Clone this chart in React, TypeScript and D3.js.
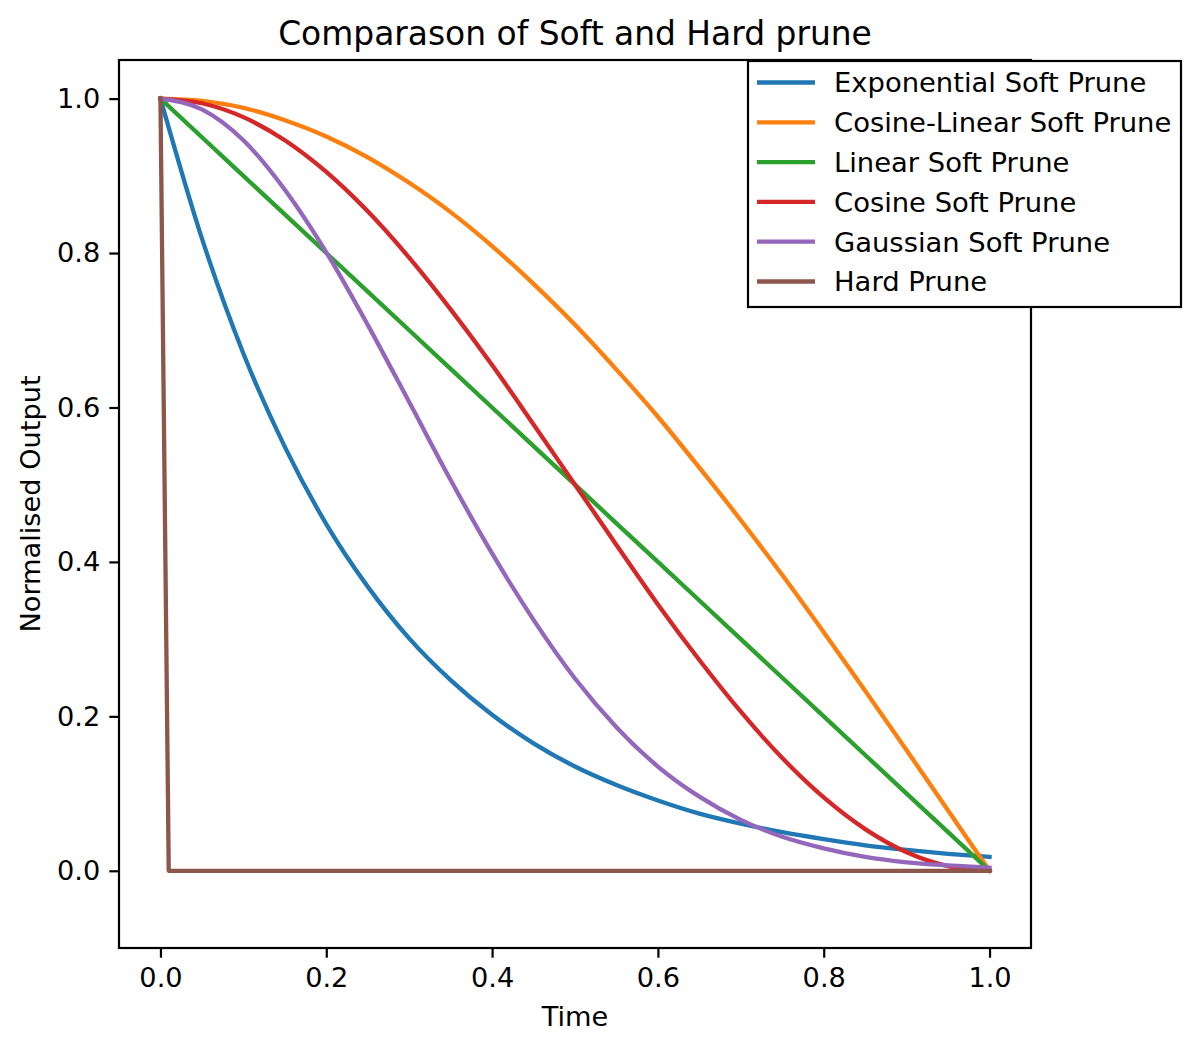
import React, { useRef, useEffect } from 'react';
import * as d3 from 'd3';

// sample times
const times = [
  0, 0.05, 0.1, 0.15, 0.2, 0.25, 0.3, 0.35, 0.4, 0.45, 0.5,
  0.55, 0.6, 0.65, 0.7, 0.75, 0.8, 0.85, 0.9, 0.95, 1.0,
];

const exponentialSoft = [
  1.0, 0.819, 0.67, 0.549, 0.449, 0.368, 0.301, 0.247, 0.202, 0.165, 0.135,
  0.111, 0.091, 0.074, 0.061, 0.05, 0.041, 0.033, 0.027, 0.022, 0.018,
];
const cosineLinearSoft = [
  1.0, 0.997, 0.988, 0.972, 0.951, 0.924, 0.891, 0.853, 0.809, 0.76, 0.707,
  0.649, 0.588, 0.522, 0.454, 0.383, 0.309, 0.233, 0.156, 0.078, 0.0,
];
const linearSoft = [
  1.0, 0.95, 0.9, 0.85, 0.8, 0.75, 0.7, 0.65, 0.6, 0.55, 0.5,
  0.45, 0.4, 0.35, 0.3, 0.25, 0.2, 0.15, 0.1, 0.05, 0.0,
];
const cosineSoft = [
  1.0, 0.994, 0.976, 0.946, 0.905, 0.854, 0.794, 0.727, 0.655, 0.578, 0.5,
  0.422, 0.345, 0.273, 0.206, 0.146, 0.095, 0.054, 0.024, 0.006, 0.0,
];
const gaussianSoft = [
  1.0, 0.986, 0.946, 0.882, 0.801, 0.707, 0.607, 0.506, 0.411, 0.325, 0.249,
  0.186, 0.135, 0.096, 0.066, 0.044, 0.029, 0.018, 0.011, 0.007, 0.004,
];

const hardTimes = [0, 0.01, 1.0];
const hardPrune = [1.0, 0.0, 0.0];

const seriesNames = [
  'Exponential Soft Prune',
  'Cosine-Linear Soft Prune',
  'Linear Soft Prune',
  'Cosine Soft Prune',
  'Gaussian Soft Prune',
  'Hard Prune',
];
const seriesColors = ['#1f77b4', '#ff7f0e', '#2ca02c', '#d62728', '#9467bd', '#8c564b'];

const xTicks = [0, 0.2, 0.4, 0.6, 0.8, 1.0];
const yTicks = [0, 0.2, 0.4, 0.6, 0.8, 1.0];

const FONT = '"DejaVu Sans", sans-serif';

const App: React.FC = () => {
  const svgRef = useRef<SVGSVGElement | null>(null);

  useEffect(() => {
    if (!svgRef.current) return;
    const svg = d3.select(svgRef.current);
    svg.selectAll('*').remove();

    const width = 1200;
    const height = 1050;
    const box = { left: 119, right: 1031, top: 60, bottom: 948 };

    const x = d3.scaleLinear().domain([-0.05, 1.05]).range([box.left, box.right]);
    const y = d3.scaleLinear().domain([-0.1, 1.05]).range([box.bottom, box.top]);

    svg.append('rect').attr('width', width).attr('height', height).attr('fill', '#fff');

    // clip for lines
    svg.append('defs').append('clipPath').attr('id', 'plot-clip')
      .append('rect')
      .attr('x', box.left).attr('y', box.top)
      .attr('width', box.right - box.left).attr('height', box.bottom - box.top);

    const series: { xs: number[]; ys: number[]; curve: d3.CurveFactory }[] = [
      { xs: times, ys: exponentialSoft, curve: d3.curveMonotoneX },
      { xs: times, ys: cosineLinearSoft, curve: d3.curveMonotoneX },
      { xs: times, ys: linearSoft, curve: d3.curveLinear },
      { xs: times, ys: cosineSoft, curve: d3.curveMonotoneX },
      { xs: times, ys: gaussianSoft, curve: d3.curveMonotoneX },
      { xs: hardTimes, ys: hardPrune, curve: d3.curveLinear },
    ];

    const lines = svg.append('g').attr('clip-path', 'url(#plot-clip)');
    series.forEach((s, i) => {
      const line = d3.line<number>()
        .x((_d, j) => x(s.xs[j]))
        .y(d => y(d))
        .curve(s.curve);
      lines.append('path')
        .datum(s.ys)
        .attr('fill', 'none')
        .attr('stroke', seriesColors[i])
        .attr('stroke-width', 4.3)
        .attr('stroke-linejoin', 'round')
        .attr('stroke-linecap', 'square')
        .attr('d', line);
    });

    // X axis
    const xAxis = svg.append('g')
      .attr('transform', `translate(0,${box.bottom})`)
      .call(d3.axisBottom(x).tickValues(xTicks).tickFormat(d3.format('.1f')).tickSize(9.7).tickPadding(10));
    xAxis.select('.domain').remove();
    xAxis.selectAll('line').attr('stroke', '#000').attr('stroke-width', 2.2);
    xAxis.selectAll('text')
      .attr('font-family', FONT).attr('font-size', 27.2).attr('fill', '#000');

    // Y axis
    const yAxis = svg.append('g')
      .attr('transform', `translate(${box.left},0)`)
      .call(d3.axisLeft(y).tickValues(yTicks).tickFormat(d3.format('.1f')).tickSize(9.7).tickPadding(9));
    yAxis.select('.domain').remove();
    yAxis.selectAll('line').attr('stroke', '#000').attr('stroke-width', 2.2);
    yAxis.selectAll('text')
      .attr('font-family', FONT).attr('font-size', 27.2).attr('fill', '#000');

    // frame
    svg.append('rect')
      .attr('x', box.left).attr('y', box.top)
      .attr('width', box.right - box.left).attr('height', box.bottom - box.top)
      .attr('fill', 'none').attr('stroke', '#000').attr('stroke-width', 2.2);

    // title and axis labels
    svg.append('text')
      .attr('x', (box.left + box.right) / 2).attr('y', 45)
      .attr('text-anchor', 'middle')
      .attr('font-family', FONT).attr('font-size', 32.9)
      .text('Comparason of Soft and Hard prune');

    svg.append('text')
      .attr('x', (box.left + box.right) / 2).attr('y', 1026)
      .attr('text-anchor', 'middle')
      .attr('font-family', FONT).attr('font-size', 27.2)
      .text('Time');

    svg.append('text')
      .attr('transform', `translate(40,${(box.top + box.bottom) / 2}) rotate(-90)`)
      .attr('text-anchor', 'middle')
      .attr('font-family', FONT).attr('font-size', 27.2)
      .text('Normalised Output');

    // legend
    const legend = svg.append('g');
    legend.append('rect')
      .attr('x', 748).attr('y', 61)
      .attr('width', 433).attr('height', 246)
      .attr('fill', '#fff').attr('stroke', '#000').attr('stroke-width', 2.2);

    seriesNames.forEach((name, i) => {
      const cy = 82.5 + i * 39.8;
      legend.append('line')
        .attr('x1', 757).attr('x2', 815)
        .attr('y1', cy).attr('y2', cy)
        .attr('stroke', seriesColors[i]).attr('stroke-width', 4.3);
      legend.append('text')
        .attr('x', 834).attr('y', cy)
        .attr('dy', '0.36em')
        .attr('font-family', FONT).attr('font-size', 27.4)
        .text(name);
    });
  }, []);

  return (
    <svg
      ref={svgRef}
      width={1200}
      height={1050}
      style={{ position: 'absolute', left: 0, top: 0 }}
    />
  );
};

export default App;
